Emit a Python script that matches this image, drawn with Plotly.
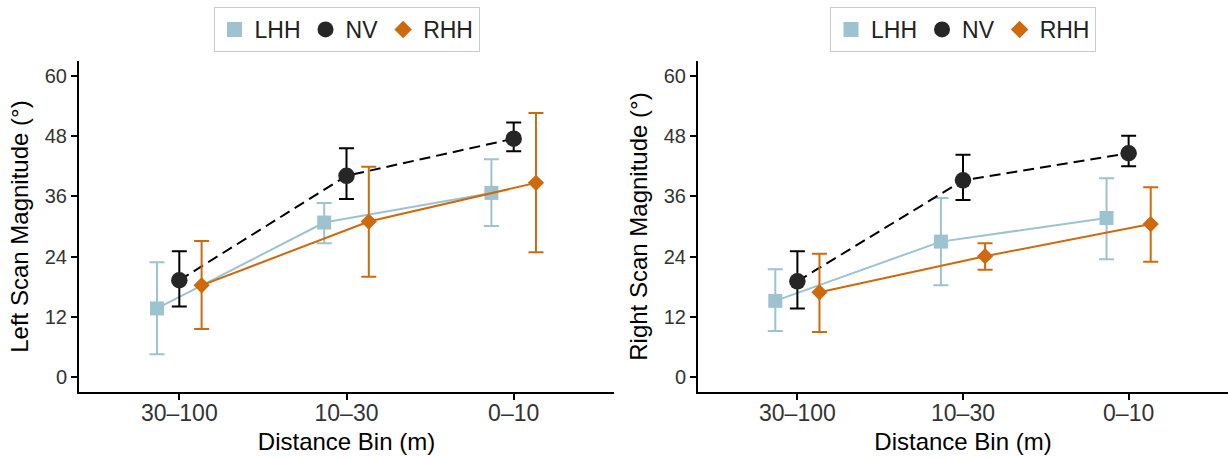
import plotly.graph_objects as go

# ---------------- data ----------------
bins = ["30–100", "10–30", "0–10"]
groups = ["LHH", "NV", "RHH"]

# Left scan magnitude (deg): mean, upper bound, lower bound
left_LHH = [13.7, 30.8, 36.7]
left_LHH_hi = [22.9, 34.7, 43.4]
left_LHH_lo = [4.6, 26.7, 30.1]
left_NV = [19.3, 40.1, 47.5]
left_NV_hi = [25.1, 45.6, 50.7]
left_NV_lo = [14.1, 35.5, 45.0]
left_RHH = [18.3, 31.0, 38.7]
left_RHH_hi = [27.1, 41.9, 52.6]
left_RHH_lo = [9.6, 20.0, 24.9]

# Right scan magnitude (deg)
right_LHH = [15.2, 27.0, 31.7]
right_LHH_hi = [21.5, 35.7, 39.6]
right_LHH_lo = [9.2, 18.3, 23.5]
right_NV = [19.1, 39.2, 44.6]
right_NV_hi = [25.1, 44.3, 48.1]
right_NV_lo = [13.7, 35.3, 42.0]
right_RHH = [16.9, 24.1, 30.5]
right_RHH_hi = [24.6, 26.7, 37.8]
right_RHH_lo = [9.0, 21.4, 23.0]

y_ticks = [0, 12, 24, 36, 48, 60]

# ---------------- style ----------------
colors = {"LHH": "#9DC3D0", "NV": "#262626", "RHH": "#CF6A0C"}
err_colors = {"LHH": "#9DC3D0", "NV": "#000000", "RHH": "#CF6A0C"}
line_colors = {"LHH": "#9DC3D0", "NV": "#000000", "RHH": "#CF6A0C"}
symbols = {"LHH": "square", "NV": "circle", "RHH": "diamond"}
msizes = {"LHH": 14, "NV": 16.5, "RHH": 12.5}
dashes = {"LHH": "solid", "NV": "11px,6px", "RHH": "solid"}
offsets = {"LHH": -0.1333, "NV": 0.0, "RHH": 0.1333}
FONT = "Liberation Sans, Arial, sans-serif"

fig = go.Figure()

panels = [
    ("x", "y", {"LHH": (left_LHH, left_LHH_hi, left_LHH_lo),
                "NV": (left_NV, left_NV_hi, left_NV_lo),
                "RHH": (left_RHH, left_RHH_hi, left_RHH_lo)}, "legend"),
    ("x2", "y2", {"LHH": (right_LHH, right_LHH_hi, right_LHH_lo),
                  "NV": (right_NV, right_NV_hi, right_NV_lo),
                  "RHH": (right_RHH, right_RHH_hi, right_RHH_lo)}, "legend2"),
]

for xa, ya, data, leg in panels:
    for g in groups:
        vals, hi, lo = data[g]
        xs = [i + 1 + offsets[g] for i in range(len(bins))]
        fig.add_trace(go.Scatter(
            x=xs, y=vals, xaxis=xa, yaxis=ya, mode="lines+markers",
            line=dict(color=line_colors[g], width=2, dash=dashes[g]),
            marker=dict(symbol=symbols[g], size=msizes[g], color=colors[g]),
            error_y=dict(type="data", symmetric=False,
                         array=[h - v for h, v in zip(hi, vals)],
                         arrayminus=[v - l for v, l in zip(vals, lo)],
                         color=err_colors[g], thickness=2, width=7.5),
            showlegend=False, name=g, cliponaxis=False,
        ))
    for g in groups:
        fig.add_trace(go.Scatter(
            x=[None], y=[None], xaxis=xa, yaxis=ya, mode="markers",
            marker=dict(symbol=symbols[g], size=msizes[g] + 1, color=colors[g]),
            name=g, legend=leg, showlegend=True,
        ))

W, H = 1228, 458
ybot, ytop = 392.3, 60.8
ydom = [(H - ybot) / H, (H - ytop) / H]

axis_common = dict(
    showline=True, linecolor="black", linewidth=2,
    ticks="outside", ticklen=6, tickwidth=2, tickcolor="black",
    showgrid=False, zeroline=False, automargin=False,
)

xaxis_common = dict(axis_common, range=[0.4, 3.6], tickmode="array",
                    tickvals=[1, 2, 3], ticktext=bins, ticklabelstandoff=-7,
                    tickfont=dict(family=FONT, size=23, color="#333333"),
                    title=dict(text="Distance Bin (m)", standoff=8,
                               font=dict(family=FONT, size=24, color="black")))
yaxis_common = dict(axis_common, range=[-3, 63], tickmode="array",
                    tickvals=y_ticks, ticktext=[str(t) for t in y_ticks],
                    tickfont=dict(family=FONT, size=20, color="#333333"))

legend_common = dict(orientation="h", xanchor="center", y=1 - 7 / H, yanchor="top",
                     bordercolor="#CCCCCC", borderwidth=1, bgcolor="white",
                     font=dict(family=FONT, size=23, color="#222222"),
                     itemwidth=30, tracegroupgap=0)

fig.update_layout(
    width=W, height=H,
    margin=dict(l=0, r=0, t=0, b=0, autoexpand=False),
    plot_bgcolor="white", paper_bgcolor="white",
    font=dict(family=FONT, color="black"),
    xaxis=dict(xaxis_common, domain=[79 / W, 614 / W], anchor="y"),
    xaxis2=dict(xaxis_common, domain=[698 / W, 1.0], anchor="y2"),
    yaxis=dict(yaxis_common, domain=ydom, anchor="x",
               title=dict(text="Left Scan Magnitude (°)", standoff=9,
                          font=dict(family=FONT, size=24, color="black"))),
    yaxis2=dict(yaxis_common, domain=ydom, anchor="x2",
                title=dict(text="Right Scan Magnitude (°)", standoff=9,
                           font=dict(family=FONT, size=24, color="black"))),
    legend=dict(legend_common, x=346.5 / W),
    legend2=dict(legend_common, x=963 / W),
)

fig.write_html(
    "out.html",
    config={"displayModeBar": False},
    post_script="document.body.style.margin='0';document.body.style.overflow='hidden';",
)
